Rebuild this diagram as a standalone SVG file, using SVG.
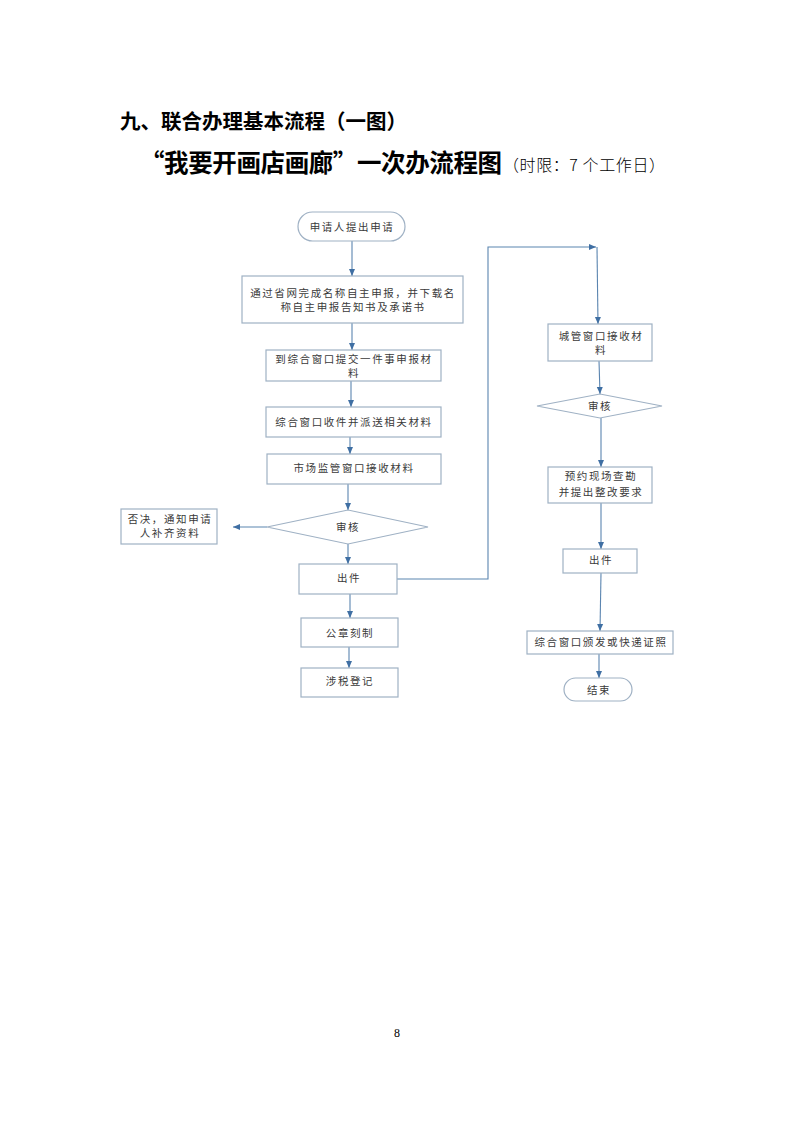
<svg xmlns="http://www.w3.org/2000/svg" width="793" height="1122" viewBox="0 0 793 1122">
<style>
.bg{fill:#ffffff}
.box{fill:#ffffff;stroke:#9fb1c4;stroke-width:1.2}
.t{font-family:"Noto Sans CJK SC","Noto Sans CJK JP",sans-serif;font-size:10.5px;fill:#3a3a3a;text-anchor:middle;letter-spacing:1.6px}
.con{fill:none;stroke:#5b85b0;stroke-width:1.1}
.h1{font-family:"Noto Sans CJK SC",sans-serif;font-weight:bold;font-size:20.5px;fill:#000}
.h2{font-family:"Noto Sans CJK SC",sans-serif;font-weight:bold;font-size:24.5px;fill:#000}
.h3{font-family:"Noto Sans CJK SC",sans-serif;font-weight:300;font-size:16px;fill:#000}
.pg{font-family:"Liberation Serif",serif;font-size:12px;fill:#000;text-anchor:middle}
</style>
<defs>
<marker id="ah" markerWidth="8" markerHeight="8" refX="7" refY="4" orient="auto" markerUnits="userSpaceOnUse">
<path d="M0,1 L7,4 L0,7 Z" fill="#3f6fa3"/>
</marker>
</defs>
<rect class="bg" x="0" y="0" width="793" height="1122"/>
<text class="h1" x="120" y="129">九、联合办理基本流程（一图）</text>
<text class="h2" x="140" y="172" textLength="362" lengthAdjust="spacing">“我要开画店画廊”一次办流程图</text>
<text class="h3" x="503" y="171" textLength="162" lengthAdjust="spacing">（时限：7 个工作日）</text>

<g id="connectors">
<line class="con" x1="352" y1="241" x2="352" y2="276" marker-end="url(#ah)"/>
<line class="con" x1="352" y1="323" x2="352" y2="350" marker-end="url(#ah)"/>
<line class="con" x1="351" y1="381" x2="351" y2="407" marker-end="url(#ah)"/>
<line class="con" x1="350" y1="437" x2="350" y2="454" marker-end="url(#ah)"/>
<line class="con" x1="348" y1="484" x2="348" y2="510" marker-end="url(#ah)"/>
<line class="con" x1="267" y1="527" x2="233" y2="527" marker-end="url(#ah)"/>
<line class="con" x1="348" y1="544" x2="348" y2="564" marker-end="url(#ah)"/>
<line class="con" x1="350" y1="594" x2="350" y2="618" marker-end="url(#ah)"/>
<line class="con" x1="349" y1="647" x2="349" y2="668" marker-end="url(#ah)"/>
<polyline class="con" points="397,579 488,579 488,247 596,247" marker-end="url(#ah)"/>
<line class="con" x1="597" y1="247" x2="598" y2="324" marker-end="url(#ah)"/>
<line class="con" x1="599" y1="361" x2="600" y2="394" marker-end="url(#ah)"/>
<line class="con" x1="601" y1="418" x2="601" y2="467" marker-end="url(#ah)"/>
<line class="con" x1="601" y1="503" x2="601" y2="549" marker-end="url(#ah)"/>
<line class="con" x1="601" y1="573" x2="600" y2="631" marker-end="url(#ah)"/>
<line class="con" x1="599" y1="654" x2="599" y2="678" marker-end="url(#ah)"/>
</g>

<g id="start">
<rect class="box" x="298" y="212" width="107" height="29" rx="14.5"/>
<text class="t" x="352" y="230.5">申请人提出申请</text>
</g>
<g id="name-report">
<rect class="box" x="242" y="276" width="221" height="47"/>
<text class="t" x="353" y="297">通过省网完成名称自主申报，并下载名</text>
<text class="t" x="353" y="311">称自主申报告知书及承诺书</text>
</g>
<g id="submit">
<rect class="box" x="266" y="350" width="175" height="31"/>
<text class="t" x="354" y="363">到综合窗口提交一件事申报材</text>
<text class="t" x="354" y="376.5">料</text>
</g>
<g id="dispatch">
<rect class="box" x="266" y="407" width="175" height="30"/>
<text class="t" x="354" y="426">综合窗口收件并派送相关材料</text>
</g>
<g id="market-receive">
<rect class="box" x="267" y="454" width="174" height="30"/>
<text class="t" x="354" y="472">市场监管窗口接收材料</text>
</g>
<g id="review1">
<polygon class="box" points="267,527 348,510 428,527 348,544"/>
<text class="t" x="348" y="531">审核</text>
</g>
<g id="reject">
<rect class="box" x="121" y="509" width="96" height="35"/>
<text class="t" x="170" y="523">否决，通知申请</text>
<text class="t" x="170" y="537">人补齐资料</text>
</g>
<g id="issue1">
<rect class="box" x="299" y="564" width="98" height="30"/>
<text class="t" x="349" y="582">出件</text>
</g>
<g id="seal">
<rect class="box" x="301" y="618" width="97" height="29"/>
<text class="t" x="350" y="637">公章刻制</text>
</g>
<g id="tax">
<rect class="box" x="301" y="668" width="97" height="29"/>
<text class="t" x="350" y="685">涉税登记</text>
</g>
<g id="city-receive">
<rect class="box" x="548" y="324" width="104" height="37"/>
<text class="t" x="601" y="340">城管窗口接收材</text>
<text class="t" x="601" y="354">料</text>
</g>
<g id="review2">
<polygon class="box" points="537,406 600,394 662,406 600,418"/>
<text class="t" x="600" y="410">审核</text>
</g>
<g id="inspect">
<rect class="box" x="548" y="467" width="104" height="36"/>
<text class="t" x="601" y="480">预约现场查勘</text>
<text class="t" x="601" y="496">并提出整改要求</text>
</g>
<g id="issue2">
<rect class="box" x="563" y="549" width="74" height="24"/>
<text class="t" x="601" y="564">出件</text>
</g>
<g id="deliver">
<rect class="box" x="527" y="631" width="146" height="23"/>
<text class="t" x="601" y="646">综合窗口颁发或快递证照</text>
</g>
<g id="end">
<rect class="box" x="564" y="678" width="68" height="23" rx="11.5"/>
<text class="t" x="599" y="694">结束</text>
</g>

<text class="pg" x="397" y="1037">8</text>
</svg>
